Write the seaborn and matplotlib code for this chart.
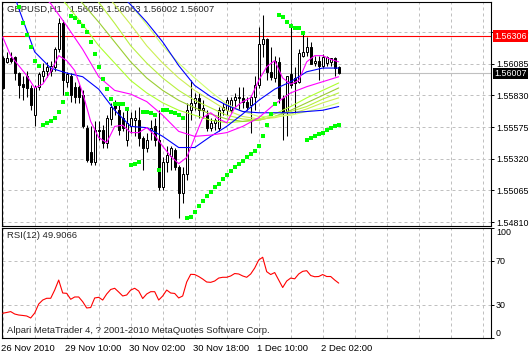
import numpy as np
import pandas as pd
import matplotlib
matplotlib.use("Agg")
import matplotlib.pyplot as plt
import matplotlib.transforms as mtransforms
import seaborn as sns

nan = np.nan

# --- GBPUSD H1 candles (one value per bar) ---
opens = [1.5613, 1.5610, 1.5613, 1.5614, 1.5601, 1.5592, 1.5599, 1.5589, 1.5567, 1.5590,
         1.5599, 1.5603, 1.5603, 1.5606, 1.5620, 1.5641, 1.5594, 1.5599, 1.5590, 1.5590,
         1.5583, 1.5557, 1.5537, 1.5529, 1.5555, 1.5555, 1.5545, 1.5564, 1.5578, 1.5571,
         1.5565, 1.5547, 1.5558, 1.5563, 1.5563, 1.5549, 1.5541, 1.5555, 1.5558, 1.5547,
         1.5509, 1.5529, 1.5534, 1.5539, 1.5525, 1.5504, 1.5520, 1.5571, 1.5577, 1.5581,
         1.5571, 1.5567, 1.5557, 1.5561, 1.5557, 1.5571, 1.5571, 1.5571, 1.5579, 1.5581,
         1.5581, 1.5578, 1.5575, 1.5582, 1.5591, 1.5624, 1.5628, 1.5602, 1.5597, 1.5610,
         1.5581, 1.5570, 1.5600, 1.5597, 1.5594, 1.5615, 1.5618, 1.5622, 1.5609, 1.5611,
         1.5607, 1.5609, 1.5610, 1.5613, 1.56055]
highs = [1.5615, 1.5618, 1.5618, 1.5615, 1.5602, 1.5599, 1.5603, 1.5591, 1.5591, 1.5602,
         1.5609, 1.5610, 1.5611, 1.5622, 1.5645, 1.5644, 1.5602, 1.5601, 1.5594, 1.5591,
         1.5587, 1.5559, 1.5558, 1.5562, 1.5562, 1.5559, 1.5567, 1.5577, 1.5579, 1.5575,
         1.5570, 1.5571, 1.5570, 1.5571, 1.5574, 1.5550, 1.5553, 1.5563, 1.5565, 1.5571,
         1.5533, 1.5542, 1.5542, 1.5541, 1.5527, 1.5525, 1.5577, 1.5595, 1.5585, 1.5585,
         1.5579, 1.5571, 1.5565, 1.5565, 1.5574, 1.5577, 1.5582, 1.5582, 1.5585, 1.5590,
         1.5590, 1.5582, 1.5583, 1.5599, 1.5638, 1.5648, 1.5629, 1.5622, 1.5615, 1.5614,
         1.5583, 1.5599, 1.5641, 1.5606, 1.5620, 1.5633, 1.5630, 1.5626, 1.5615, 1.5615,
         1.5616, 1.5615, 1.5613, 1.5614, 1.56063]
lows = [1.5588, 1.5609, 1.5609, 1.5595, 1.5581, 1.5579, 1.5582, 1.5571, 1.5558, 1.5587,
        1.5594, 1.5598, 1.5599, 1.5603, 1.5618, 1.5583, 1.5590, 1.5578, 1.5577, 1.5577,
        1.5557, 1.5529, 1.5527, 1.5527, 1.5547, 1.5541, 1.5541, 1.5559, 1.5567, 1.5551,
        1.5554, 1.5542, 1.5553, 1.5550, 1.5542, 1.5523, 1.5537, 1.5547, 1.5542, 1.5507,
        1.5507, 1.5521, 1.5523, 1.5523, 1.5484, 1.5496, 1.5515, 1.5563, 1.5571, 1.5565,
        1.5565, 1.5554, 1.5554, 1.5555, 1.5554, 1.5567, 1.5567, 1.5569, 1.5574, 1.5571,
        1.5573, 1.5571, 1.5553, 1.5571, 1.5589, 1.5614, 1.5595, 1.5595, 1.5594, 1.5577,
        1.5547, 1.5550, 1.5589, 1.5569, 1.5593, 1.5614, 1.5615, 1.5608, 1.5607, 1.5595,
        1.5605, 1.5607, 1.5607, 1.5599, 1.56002]
closes = [1.5589, 1.5613, 1.5611, 1.5601, 1.5591, 1.5590, 1.5589, 1.5575, 1.5590, 1.5600,
          1.5603, 1.5606, 1.5607, 1.5620, 1.5641, 1.5595, 1.5600, 1.5583, 1.5582, 1.5582,
          1.5558, 1.5531, 1.5529, 1.5555, 1.5554, 1.5545, 1.5565, 1.5574, 1.5573, 1.5555,
          1.5557, 1.5561, 1.5565, 1.5565, 1.5549, 1.5541, 1.5547, 1.5557, 1.5547, 1.5509,
          1.5529, 1.5535, 1.5541, 1.5525, 1.5504, 1.5520, 1.5571, 1.5577, 1.5581, 1.5571,
          1.5573, 1.5557, 1.5561, 1.5563, 1.5571, 1.5574, 1.5579, 1.5579, 1.5582, 1.5582,
          1.5578, 1.5574, 1.5582, 1.5591, 1.5624, 1.5628, 1.5602, 1.5598, 1.5611, 1.5581,
          1.5569, 1.5599, 1.5591, 1.5593, 1.5617, 1.5618, 1.5622, 1.5608, 1.5611, 1.5607,
          1.5614, 1.5614, 1.5613, 1.5605, 1.56007]

# parabolic SAR dots
sar = [nan, nan, nan, nan, 1.5654, 1.5641, 1.5632, 1.5622, 1.5611, 1.5607,
       1.5559, 1.5561, 1.5562, 1.5565, 1.5570, 1.5578, 1.5584, 1.5647, 1.5645, 1.5642,
       1.5639, 1.5634, 1.5626, 1.5616, 1.5606, 1.5596, 1.5588, 1.5580, 1.5576, 1.5576,
       1.5576, 1.5572, 1.5527, 1.5528, 1.5529, 1.5570, 1.5570, 1.5569, 1.5567, 1.5523,
       1.5571, 1.5571, 1.5570, 1.5569, 1.5567, 1.5565, 1.5484, 1.5485, 1.5489, 1.5494,
       1.5498, 1.5502, 1.5505, 1.5509, 1.5512, 1.5516, 1.5519, 1.5522, 1.5525, 1.5528,
       1.5530, 1.5533, 1.5536, 1.5538, 1.5542, 1.5550, 1.5559, 1.5568, 1.5576, 1.5648,
       1.5646, 1.5642, 1.5639, 1.5637, 1.5637, 1.5633, 1.5547, 1.5549, 1.5550, 1.5552,
       1.5553, 1.5555, 1.5557, 1.5558, 1.5559]

# RSI(12)
rsi = [22.5, 23.2, 24.0, 21.8, 20.9, 20.5, 20.0, 18.2, 22.7, 30.9,
       34.5, 36.1, 36.1, 43.6, 52.7, 40.9, 40.6, 35.2, 37.3, 37.3,
       33.0, 27.3, 27.7, 36.4, 37.0, 34.5, 40.0, 44.1, 45.2, 41.8,
       38.2, 39.1, 43.6, 45.2, 42.7, 35.9, 40.0, 42.1, 42.1, 34.5,
       38.2, 43.6, 40.9, 40.5, 36.4, 38.2, 50.9, 57.9, 57.7, 55.9,
       53.6, 50.9, 50.6, 51.8, 54.5, 55.2, 55.2, 56.4, 58.6, 58.2,
       56.4, 55.2, 58.2, 63.6, 70.9, 73.4, 60.3, 57.7, 59.5, 52.7,
       45.9, 51.8, 54.5, 53.8, 58.2, 60.6, 61.2, 56.8, 55.7, 55.9,
       57.7, 55.9, 55.9, 52.7, 49.9]

# moving averages, read every 2 bars (fast) or every 4 bars (the rest)
fast_bars = list(range(0, 85, 2))
ma_fast_magenta = [1.5630, 1.5615, 1.5607, 1.5599, 1.5589, 1.5592, 1.5602, 1.5615, 1.5611, 1.5603,
                   1.5585, 1.5562, 1.5549, 1.5545, 1.5558, 1.5559, 1.5553, 1.5553, 1.5557, 1.5551,
                   1.5542, 1.5534, 1.5528, 1.5533, 1.5549, 1.5565, 1.5569, 1.5564, 1.5561, 1.5573,
                   1.5578, 1.5581, 1.5595, 1.5606, 1.5611, 1.5597, 1.5592, 1.5595, 1.5610, 1.5615,
                   1.5615, 1.5612, 1.5610]
ma_bars = list(range(0, 85, 4))
ma_mid_blue = [1.5692, 1.5653, 1.5618, 1.5605, 1.5601, 1.5598, 1.5588, 1.5571, 1.5558, 1.5557, 1.5550,
               1.5541, 1.5541, 1.5550, 1.5558, 1.5568, 1.5579, 1.5588, 1.5594, 1.5602, 1.5605, 1.5605]
ma_slow_magenta = [1.5692, 1.5680, 1.5669, 1.5657, 1.5639, 1.5620, 1.5598, 1.5587, 1.5584, 1.5578, 1.5567,
                   1.5554, 1.5550, 1.5551, 1.5553, 1.5558, 1.5565, 1.5576, 1.5585, 1.5590, 1.5594, 1.5598]
ma_slow_blue = [nan, nan, nan, nan, nan, 1.5700, 1.5686, 1.5669, 1.5656, 1.5642, 1.5626,
                1.5607, 1.5591, 1.5582, 1.5575, 1.5570, 1.5569, 1.5569, 1.5569, 1.5570, 1.5571, 1.5574]
ma_green1 = [nan, nan, nan, 1.5671, 1.5656, 1.5640, 1.5623, 1.5609, 1.5595, 1.5585, 1.5577,
             1.5571, 1.5567, 1.5563, 1.5561, 1.5562, 1.5564, 1.5568, 1.5574, 1.5581, 1.5587, 1.5593]
ma_green2 = [nan, nan, nan, nan, 1.5671, 1.5657, 1.5642, 1.5626, 1.5610, 1.5597, 1.5587,
             1.5579, 1.5573, 1.5568, 1.5564, 1.5562, 1.5563, 1.5566, 1.5571, 1.5577, 1.5583, 1.5589]
ma_green3 = [nan, nan, nan, nan, nan, 1.5673, 1.5658, 1.5641, 1.5623, 1.5609, 1.5597,
             1.5587, 1.5579, 1.5573, 1.5567, 1.5564, 1.5563, 1.5566, 1.5570, 1.5574, 1.5580, 1.5585]
ma_green4 = [nan, nan, nan, nan, nan, nan, 1.5671, 1.5656, 1.5640, 1.5623, 1.5609,
             1.5597, 1.5587, 1.5579, 1.5571, 1.5566, 1.5564, 1.5565, 1.5568, 1.5572, 1.5577, 1.5581]
ma_green5 = [nan, nan, nan, nan, nan, nan, nan, 1.5671, 1.5656, 1.5640, 1.5623,
             1.5609, 1.5597, 1.5586, 1.5576, 1.5570, 1.5566, 1.5566, 1.5567, 1.5570, 1.5573, 1.5577]
green_colors = ['#adff2f', '#9acd32', '#b8f040', '#ccee55', '#d0ff70']

price_ticks = [1.54810, 1.55065, 1.55320, 1.55575, 1.55830, 1.56085, 1.56340]
rsi_ticks = [0, 30, 70, 100]
time_tick_bars = [0, 16, 32, 48, 64, 80]
time_tick_labels = ['26 Nov 2010', '29 Nov 10:00', '30 Nov 02:00', '30 Nov 18:00', '1 Dec 10:00', '2 Dec 02:00']
red_level = 1.56306
bid = 1.56007
header = 'GBPUSD,H1   1.56055 1.56063 1.56002 1.56007'

# --- figure ---
sns.set_style("white")
plt.rcParams['font.family'] = ['Liberation Sans', 'DejaVu Sans']
plt.rcParams['font.size'] = 6.8
scale_fs = 6.4

df = pd.DataFrame({'bar': np.arange(len(closes)), 'open': opens, 'high': highs,
                   'low': lows, 'close': closes, 'sar': sar, 'rsi': rsi})

fig = plt.figure(figsize=(5.29, 3.55), dpi=100)
ax = fig.add_axes([2 / 529, 1 - 226 / 355, 489 / 529, 224 / 355])
ax2 = fig.add_axes([2 / 529, 1 - 338 / 355, 489 / 529, 110 / 355])

grid_kw = dict(color='#c0c0c0', lw=0.72, ls=(0, (3, 3)), zorder=0)
for a in (ax, ax2):
    for b in range(0, 121, 8):
        a.axvline(b, **grid_kw)
    a.set_xlim(-0.175, 122.075)
    for s in a.spines.values():
        s.set_color('black')
        s.set_linewidth(0.8)
for p in price_ticks:
    ax.axhline(p, **grid_kw)
for r in (30, 70):
    ax2.axhline(r, **grid_kw)

ax.axhline(bid, color='#c0c0c0', lw=0.8, zorder=1)
ax.axhline(red_level, color='#ff0000', lw=0.8, zorder=1)

# candles
up = df['close'] >= df['open']
ax.vlines(df['bar'], df['low'], df['high'], color='black', lw=0.75, zorder=2)
ax.bar(df['bar'], (df['close'] - df['open']).abs(), bottom=df[['open', 'close']].min(axis=1),
       width=0.55, color=np.where(up, 'white', 'black'), edgecolor='black', linewidth=0.72, zorder=3)

# indicators
line_kw = dict(ax=ax, linewidth=0.8, estimator=None, legend=False, zorder=4)
for vals, col in zip([ma_green1, ma_green2, ma_green3, ma_green4, ma_green5], green_colors):
    sns.lineplot(x=ma_bars, y=vals, color=col, **line_kw)
sns.lineplot(x=ma_bars, y=ma_slow_blue, color='#0000ff', **line_kw)
sns.lineplot(x=ma_bars, y=ma_mid_blue, color='#0000ff', **line_kw)
sns.lineplot(x=ma_bars, y=ma_slow_magenta, color='#ff00ff', **line_kw)
sns.lineplot(x=fast_bars, y=ma_fast_magenta, color='#ff00ff', **line_kw)
sns.scatterplot(data=df, x='bar', y='sar', ax=ax, marker='s', s=6, color='#00ff00',
                linewidth=0, legend=False, zorder=5)

ax.set_ylim(1.54778, 1.56582)
ax.set_xlabel('')
ax.set_ylabel('')
ax.yaxis.tick_right()
ax.set_yticks(price_ticks, [f'{p:.5f}' for p in price_ticks])
ax.tick_params(axis='y', direction='out', length=2.5, width=0.7, pad=1, labelsize=scale_fs, colors='black')
ax.tick_params(axis='x', bottom=False, labelbottom=False)

ax.text(0.0102, 0.987, header, transform=ax.transAxes, ha='left', va='top', fontsize=6.8)

# current price boxes on the scale
tr = mtransforms.blended_transform_factory(ax.transAxes, ax.transData) + \
    mtransforms.ScaledTranslation(3 / 100, 0, fig.dpi_scale_trans)
for level, face in ((red_level, '#ff0000'), (bid, 'black')):
    ax.text(1.0, level, f'{level:.5f}', transform=tr, ha='left', va='center', color='white',
            fontsize=scale_fs, clip_on=False, zorder=10,
            bbox=dict(boxstyle='square,pad=0.15', fc=face, ec='none'))

# RSI window
sns.lineplot(data=df, x='bar', y='rsi', ax=ax2, color='#ff0000', linewidth=0.8, legend=False, zorder=4)
ax2.set_ylim(0, 100)
ax2.set_xlabel('')
ax2.set_ylabel('')
ax2.yaxis.tick_right()
ax2.set_yticks(rsi_ticks, [str(r) for r in rsi_ticks])
ax2.tick_params(axis='y', direction='out', length=2.5, width=0.7, pad=1, labelsize=scale_fs, colors='black')
ylabs = ax2.get_yticklabels()
ylabs[0].set_verticalalignment('bottom')
ylabs[-1].set_verticalalignment('top')
ax2.set_xticks(time_tick_bars, time_tick_labels)
ax2.tick_params(axis='x', direction='out', length=3, width=0.7, pad=1.5, labelsize=6.8, colors='black')
shift = mtransforms.ScaledTranslation(-1.5 / 100, 0, fig.dpi_scale_trans)
for lab in ax2.get_xticklabels():
    lab.set_horizontalalignment('left')
    lab.set_transform(lab.get_transform() + shift)

ax2.text(0.0102, 0.973, 'RSI(12) 49.9066', transform=ax2.transAxes, ha='left', va='top', fontsize=6.8)
ax2.text(0.0102, 0.027, 'Alpari MetaTrader 4, ? 2001-2010 MetaQuotes Software Corp.',
         transform=ax2.transAxes, ha='left', va='bottom', fontsize=6.8)

fig.savefig('out.png', dpi=100, facecolor='white')
